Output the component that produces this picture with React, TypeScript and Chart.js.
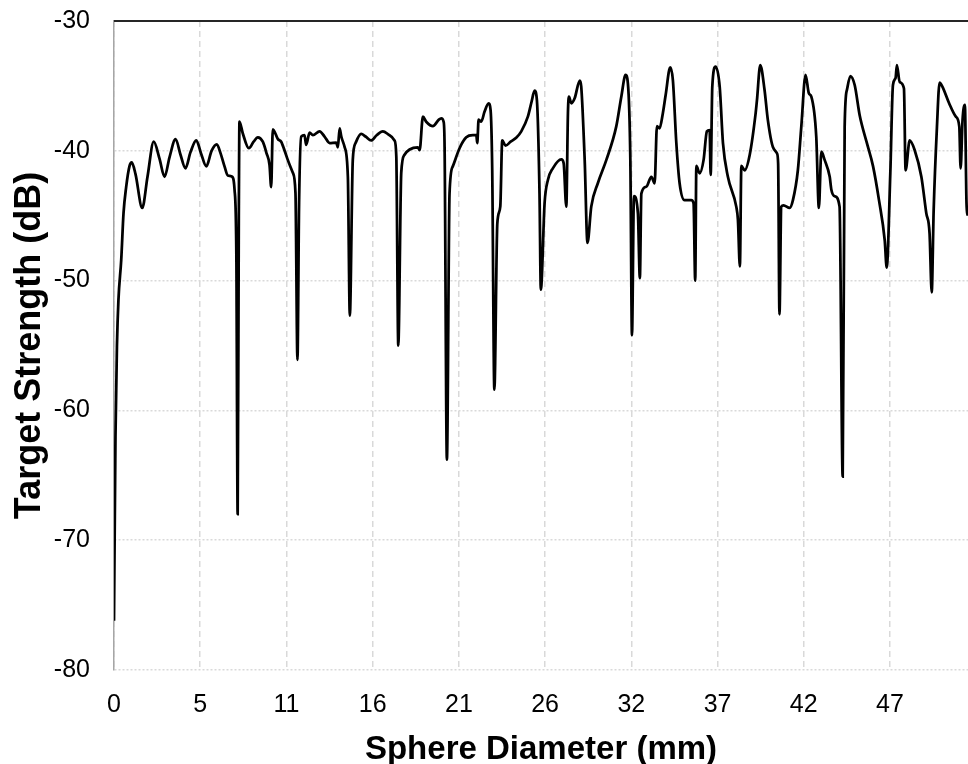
import React, { useEffect, useRef } from "react";
import { Chart, registerables } from "chart.js";

Chart.register(...registerables);

// Sphere diameter (mm)
const diameterMm = [
  0.0, 0.09, 0.18, 0.27, 0.44, 0.58, 0.74, 0.94, 1.08, 1.31, 1.72, 2.04, 2.42, 2.77, 3.08, 3.38, 3.75, 4.05,
  4.35, 4.66, 5.01, 5.3, 5.62, 5.94, 6.26, 6.49, 6.73, 6.93, 7.2, 7.34, 7.45, 7.53, 7.6, 7.64, 7.84, 8.21,
  8.5, 8.76, 9.06, 9.29, 9.47, 9.57, 9.67, 9.98, 10.18, 10.39, 10.58, 10.89, 11.05, 11.17, 11.27, 11.4, 11.6,
  11.7, 11.91, 12.11, 12.52, 12.82, 13.13, 13.53, 13.63, 13.74, 13.84, 14.04, 14.24, 14.36, 14.54, 14.71,
  15.05, 15.32, 15.66, 15.99, 16.37, 16.78, 17.08, 17.19, 17.31, 17.49, 17.69, 18.0, 18.5, 18.61, 18.81,
  19.01, 19.42, 19.78, 19.93, 20.07, 20.13, 20.27, 20.43, 20.63, 21.04, 21.45, 21.85, 22.06, 22.12, 22.2,
  22.36, 22.56, 22.81, 22.93, 23.03, 23.16, 23.34, 23.52, 23.64, 23.84, 24.15, 24.49, 24.8, 25.2, 25.43,
  25.61, 25.75, 25.91, 25.99, 26.22, 26.42, 26.72, 27.24, 27.38, 27.54, 27.64, 27.7, 27.85, 28.05, 28.36,
  28.45, 28.66, 28.83, 29.06, 29.46, 29.98, 30.58, 30.89, 31.15, 31.29, 31.44, 31.54, 31.66, 31.9, 32.02,
  32.11, 32.41, 32.72, 32.92, 33.06, 33.22, 33.42, 33.59, 33.87, 34.03, 34.24, 34.44, 34.74, 35.15, 35.29,
  35.39, 35.46, 35.66, 35.9, 36.1, 36.27, 36.33, 36.43, 36.63, 36.88, 37.08, 37.38, 37.89, 37.99, 38.11,
  38.2, 38.4, 38.71, 39.07, 39.15, 39.35, 39.61, 39.81, 40.12, 40.37, 40.44, 40.52, 40.63, 40.77, 41.14,
  41.34, 41.64, 41.85, 42.11, 42.31, 42.46, 42.76, 42.92, 43.07, 43.27, 43.58, 43.68, 43.88, 44.18, 44.37,
  44.49, 44.63, 44.84, 45.1, 45.41, 45.82, 46.22, 46.58, 46.93, 47.05, 47.27, 47.43, 47.59, 47.67, 47.84,
  48.1, 48.2, 48.45, 48.75, 49.16, 49.46, 49.66, 49.79, 49.91, 50.11, 50.27, 50.44, 50.85, 51.26, 51.47,
  51.55, 51.67, 51.81, 51.91, 51.98,
];

// Target strength (dB)
const targetStrengthDb = [
  -76.2, -62, -55, -51.5, -48.4, -44.8, -42.8, -41.2, -40.9, -41.8, -44.4, -42, -39.3, -40.6, -42.0, -40.5,
  -39.1, -40.3, -41.35, -40.1, -39.2, -40.2, -41.2, -40.0, -39.5, -40.2, -41.2, -41.9, -42.0, -43.0, -48,
  -68.0, -45, -37.76, -38.65, -39.8, -39.3, -38.96, -39.3, -40.2, -41.1, -42.8, -38.35, -39.1, -39.3, -40.0,
  -40.7, -41.7, -43.25, -56.1, -44, -38.9, -38.8, -39.55, -38.6, -38.8, -38.5, -38.9, -39.4, -39.37, -39.73,
  -38.27, -38.9, -39.7, -42.0, -52.7, -40.7, -39.4, -38.7, -38.9, -39.2, -38.8, -38.5, -38.8, -39.2, -40.45,
  -55.0, -41.7, -40.3, -39.9, -39.73, -39.94, -37.37, -37.76, -38.1, -37.6, -37.5, -37.76, -39.7, -63.8,
  -43.3, -41.2, -39.8, -38.96, -38.8, -38.8, -39.4, -37.6, -37.76, -37.0, -36.35, -36.86, -41.5, -58.4,
  -45.6, -44.3, -39.2, -39.6, -39.3, -39.0, -38.5, -37.37, -36.2, -35.37, -36.1, -43.3, -50.7, -44.0, -42.25,
  -41.35, -40.66, -40.96, -44.3, -37.1, -35.83, -36.34, -35.96, -34.6, -35.06, -40.7, -47.1, -44.3, -42.5,
  -40.7, -38.14, -35.83, -34.16, -34.8, -40.7, -54.2, -43.5, -44.8, -49.8, -43.3, -42.77, -42.0, -42.5,
  -38.1, -38.27, -37.1, -35.7, -33.57, -34.55, -39.4, -42.5, -43.8, -43.8, -44.05, -50.0, -41.17, -41.73,
  -40.7, -38.5, -38.4, -41.86, -35.06, -33.52, -35.06, -39.4, -42.0, -44.3, -45.3, -48.9, -41.17, -41.5,
  -40.3, -37.1, -36.1, -33.4, -35.3, -37.6, -39.7, -40.2, -41, -52.6, -44.3, -44.2, -44.4, -43.8, -41.5,
  -38.14, -34.16, -35.57, -35.83, -38.9, -44.4, -40.07, -40.7, -42.0, -43.0, -43.5, -44.3, -65.1, -38.14,
  -35.3, -34.24, -34.93, -37.3, -39.3, -41.2, -43.8, -46.9, -49.0, -41.7, -34.93, -34.4, -33.4, -34.7,
  -35.2, -41.5, -39.2, -39.94, -42.0, -44.8, -46.36, -50.9, -44.56, -38.14, -34.75, -35.06, -36.34, -37.37,
  -38.14, -41.35, -37.6, -36.47, -44.05, -45,
];

// x-axis tick positions (mm) and their labels
const xTickValues = [0, 5.25, 10.5, 15.75, 21, 26.25, 31.5, 36.75, 42, 47.25];
const xTickLabels = ["0", "5", "11", "16", "21", "26", "32", "37", "42", "47"];

// y-axis range
const yMin = -80;
const yMax = -30;
const yStep = 10;
const xMin = 0;
const xMax = 52;

const FONT = "'Liberation Sans', Arial, sans-serif";

const topBorderPlugin = {
  id: "topBorder",
  afterDatasetsDraw(chart: any) {
    const { ctx, chartArea } = chart;
    ctx.save();
    ctx.strokeStyle = "#262626";
    ctx.lineWidth = 2;
    ctx.beginPath();
    ctx.moveTo(chartArea.left, chartArea.top);
    ctx.lineTo(chartArea.right, chartArea.top);
    ctx.stroke();
    ctx.restore();
  },
};

export default function App() {
  const canvasRef = useRef<HTMLCanvasElement | null>(null);

  useEffect(() => {
    const canvas = canvasRef.current;
    if (!canvas) return;
    const points = diameterMm.map((x, i) => ({ x, y: targetStrengthDb[i] }));
    const chart = new Chart(canvas, {
      type: "line",
      data: {
        datasets: [
          {
            data: points,
            borderColor: "#000000",
            borderWidth: 2.75,
            pointRadius: 0,
            fill: false,
            cubicInterpolationMode: "monotone",
          },
        ],
      },
      plugins: [topBorderPlugin],
      options: {
        responsive: false,
        animation: false,
        devicePixelRatio: 1,
        layout: { padding: { top: 21, left: 0, right: 0, bottom: 0 } },
        plugins: {
          legend: { display: false },
          tooltip: { enabled: false },
        },
        scales: {
          x: {
            type: "linear",
            min: xMin,
            max: xMax,
            afterBuildTicks: (scale: any) => {
              scale.ticks = xTickValues.map((v) => ({ value: v }));
            },
            afterFit: (scale: any) => {
              scale.height = 94;
              scale.paddingLeft = 0;
              scale.paddingRight = 0;
            },
            ticks: {
              autoSkip: false,
              maxRotation: 0,
              padding: 20,
              color: "#000000",
              font: { family: FONT, size: 25 },
              callback: (value: any) => {
                const idx = xTickValues.indexOf(Number(value));
                return idx >= 0 ? xTickLabels[idx] : "";
              },
            },
            grid: {
              color: "#d9d9d9",
              lineWidth: 1.5,
              drawTicks: false,
            },
            border: { display: false, dash: [6, 4] },
            title: {
              display: true,
              text: "Sphere Diameter (mm)",
              color: "#000000",
              font: { family: FONT, size: 33, weight: "bold", lineHeight: 0.85 },
              padding: { top: 0, bottom: 0 },
            },
          },
          y: {
            type: "linear",
            min: yMin,
            max: yMax,
            afterFit: (scale: any) => {
              scale.width = 114;
              scale.paddingTop = 0;
              scale.paddingBottom = 0;
            },
            ticks: {
              stepSize: yStep,
              padding: 24,
              color: "#000000",
              font: { family: FONT, size: 25 },
            },
            grid: {
              color: "#d9d9d9",
              lineWidth: 1.5,
              drawTicks: false,
            },
            border: { display: true, color: "#a6a6a6", width: 1.5, dash: [2, 2] },
            title: {
              display: true,
              text: "Target Strength (dB)",
              color: "#000000",
              font: { family: FONT, size: 36, weight: "bold", lineHeight: 1 },
              padding: { top: 12, bottom: 0 },
            },
          },
        },
      },
    } as any);
    return () => chart.destroy();
  }, []);

  return (
    <div style={{ position: "absolute", left: 0, top: 0, width: 968, height: 764, background: "#ffffff" }}>
      <canvas ref={canvasRef} width={968} height={764} style={{ display: "block", width: 968, height: 764 }} />
    </div>
  );
}
